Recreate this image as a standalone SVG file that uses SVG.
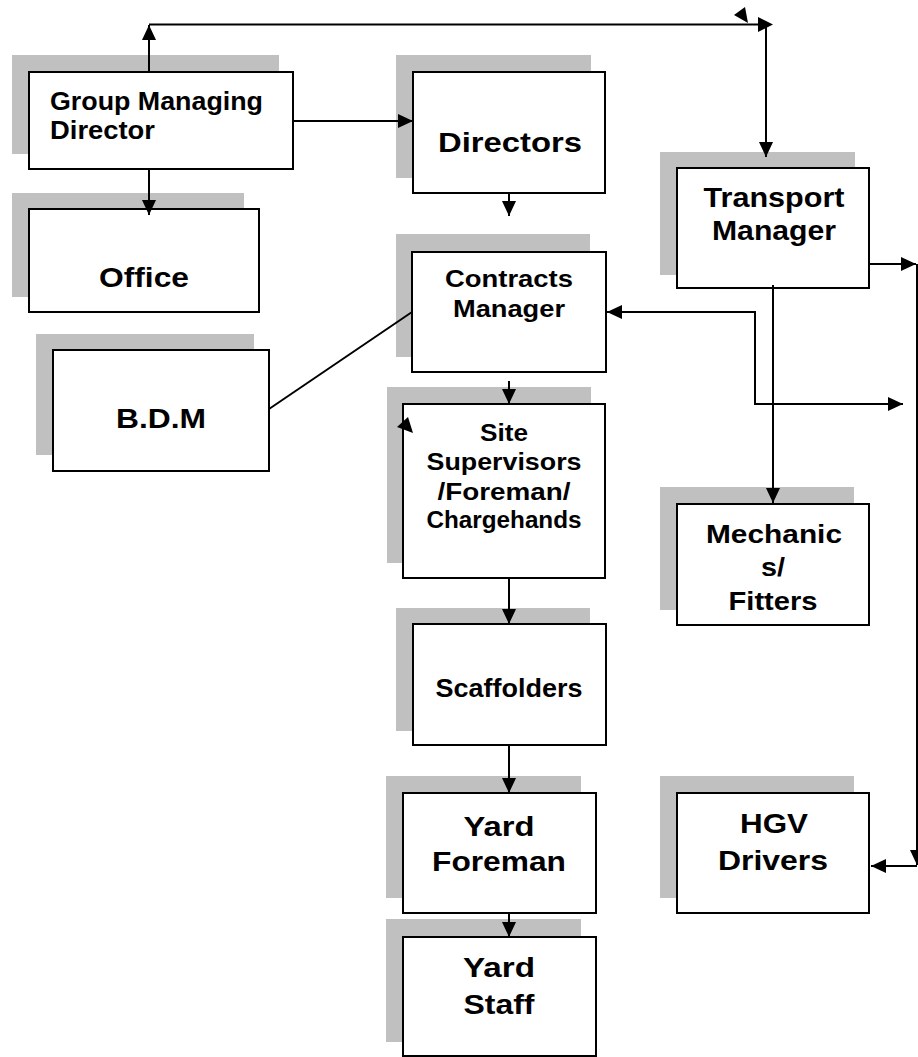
<svg xmlns="http://www.w3.org/2000/svg" width="918" height="1057" viewBox="0 0 918 1057">
<defs>
<marker id="ah" markerUnits="userSpaceOnUse" markerWidth="16" markerHeight="16" refX="15" refY="7" orient="auto-start-reverse" viewBox="0 0 16 14">
<path d="M0,0 L15,7 L0,14 z" fill="#000"/>
</marker>
<style>
.sh{fill:#c0c0c0;stroke:none}
.bx{fill:#fff;stroke:#000;stroke-width:2}
.t{font-family:"Liberation Sans",Arial,sans-serif;font-weight:bold;fill:#000}
.c{text-anchor:middle}
.ln{fill:none;stroke:#000;stroke-width:2}
</style>
</defs>
<rect width="918" height="1057" fill="#fff"/>

<g id="gmd">
<rect class="sh" x="12" y="55" width="267" height="99"/>
<rect class="bx" x="29" y="72" width="264" height="97"/>
<text class="t" font-size="25" x="50" y="110" textLength="213" lengthAdjust="spacingAndGlyphs">Group Managing</text>
<text class="t" font-size="25" x="50" y="139" textLength="105" lengthAdjust="spacingAndGlyphs">Director</text>
</g>
<g id="directors">
<rect class="sh" x="396" y="55" width="195" height="123"/>
<rect class="bx" x="413" y="72" width="192" height="121"/>
<text class="t c" font-size="28" x="510" y="152" textLength="144" lengthAdjust="spacingAndGlyphs">Directors</text>
</g>
<g id="office">
<rect class="sh" x="12" y="193" width="232" height="104"/>
<rect class="bx" x="29" y="209" width="230" height="103"/>
<text class="t c" font-size="28" x="144" y="287" textLength="90" lengthAdjust="spacingAndGlyphs">Office</text>
</g>
<g id="bdm">
<rect class="sh" x="36" y="334" width="218" height="121"/>
<rect class="bx" x="53" y="350" width="216" height="121"/>
<text class="t c" font-size="27" x="161" y="428" textLength="90" lengthAdjust="spacingAndGlyphs">B.D.M</text>
</g>
<g id="contracts">
<rect class="sh" x="396" y="234" width="194" height="123"/>
<rect class="bx" x="412" y="252" width="194" height="120"/>
<text class="t c" font-size="24" x="509" y="287" textLength="128" lengthAdjust="spacingAndGlyphs">Contracts</text>
<text class="t c" font-size="24" x="509" y="317" textLength="112" lengthAdjust="spacingAndGlyphs">Manager</text>
</g>
<g id="transport">
<rect class="sh" x="660" y="152" width="195" height="123"/>
<rect class="bx" x="677" y="168" width="192" height="120"/>
<text class="t c" font-size="28" x="774" y="207" textLength="141" lengthAdjust="spacingAndGlyphs">Transport</text>
<text class="t c" font-size="28" x="774" y="240" textLength="124" lengthAdjust="spacingAndGlyphs">Manager</text>
</g>
<g id="site">
<rect class="sh" x="387" y="387" width="204" height="176"/>
<rect class="bx" x="403" y="404" width="202" height="174"/>
<text class="t c" font-size="23" x="504" y="441" textLength="48" lengthAdjust="spacingAndGlyphs">Site</text>
<text class="t c" font-size="23" x="504" y="470" textLength="155" lengthAdjust="spacingAndGlyphs">Supervisors</text>
<text class="t c" font-size="23" x="504" y="500" textLength="133" lengthAdjust="spacingAndGlyphs">/Foreman/</text>
<text class="t c" font-size="23" x="504" y="528" textLength="155" lengthAdjust="spacingAndGlyphs">Chargehands</text>
</g>
<g id="mechanics">
<rect class="sh" x="660" y="487" width="194" height="123"/>
<rect class="bx" x="677" y="504" width="192" height="121"/>
<text class="t c" font-size="26.5" x="774" y="543" textLength="136" lengthAdjust="spacingAndGlyphs">Mechanic</text>
<text class="t c" font-size="26.5" x="773" y="576" textLength="24" lengthAdjust="spacingAndGlyphs">s/</text>
<text class="t c" font-size="26.5" x="773" y="610" textLength="89" lengthAdjust="spacingAndGlyphs">Fitters</text>
</g>
<g id="scaffolders">
<rect class="sh" x="396" y="608" width="194" height="123"/>
<rect class="bx" x="413" y="624" width="193" height="121"/>
<text class="t c" font-size="25" x="509" y="697" textLength="147" lengthAdjust="spacingAndGlyphs">Scaffolders</text>
</g>
<g id="yardforeman">
<rect class="sh" x="386" y="776" width="195" height="122"/>
<rect class="bx" x="403" y="793" width="193" height="120"/>
<text class="t c" font-size="27" x="499" y="836" textLength="71" lengthAdjust="spacingAndGlyphs">Yard</text>
<text class="t c" font-size="27" x="499" y="871" textLength="134" lengthAdjust="spacingAndGlyphs">Foreman</text>
</g>
<g id="hgv">
<rect class="sh" x="660" y="776" width="194" height="122"/>
<rect class="bx" x="677" y="793" width="192" height="120"/>
<text class="t c" font-size="28.5" x="774" y="833" textLength="68" lengthAdjust="spacingAndGlyphs">HGV</text>
<text class="t c" font-size="28.5" x="773" y="870" textLength="110" lengthAdjust="spacingAndGlyphs">Drivers</text>
</g>
<g id="yardstaff">
<rect class="sh" x="386" y="919" width="195" height="123"/>
<rect class="bx" x="403" y="937" width="193" height="119"/>
<text class="t c" font-size="28" x="499" y="977" textLength="72" lengthAdjust="spacingAndGlyphs">Yard</text>
<text class="t c" font-size="28" x="499" y="1014" textLength="71" lengthAdjust="spacingAndGlyphs">Staff</text>
</g>

<g id="connectors">
<path class="ln" d="M149,72 V25" marker-end="url(#ah)"/>
<path class="ln" d="M149,24.5 H766"/>
<polygon points="758,17 773,24.5 758,32" fill="#000"/>
<polygon points="734,15 745,7 748,23" fill="#000"/>
<path class="ln" d="M766,24.5 V157" marker-end="url(#ah)"/>
<path class="ln" d="M293,121 H413" marker-end="url(#ah)"/>
<path class="ln" d="M149,169 V215" marker-end="url(#ah)"/>
<path class="ln" d="M509,193 V216" marker-end="url(#ah)"/>
<path class="ln" d="M269,409 L412,312"/>
<path class="ln" d="M607,312 H755 V404 H903" marker-start="url(#ah)" marker-end="url(#ah)"/>
<path class="ln" d="M509,381 V404" marker-end="url(#ah)"/>
<polygon points="397,427 408,417 413,433" fill="#000"/>
<path class="ln" d="M509,579 V624" marker-end="url(#ah)"/>
<path class="ln" d="M509,745 V793" marker-end="url(#ah)"/>
<path class="ln" d="M509,913 V937" marker-end="url(#ah)"/>
<path class="ln" d="M773,285 V503" marker-end="url(#ah)"/>
<path class="ln" d="M869,264 H916" marker-end="url(#ah)"/>
<path class="ln" d="M917,264 V865" marker-end="url(#ah)"/>
<path class="ln" d="M917,866 H871" marker-end="url(#ah)"/>
</g>
</svg>
